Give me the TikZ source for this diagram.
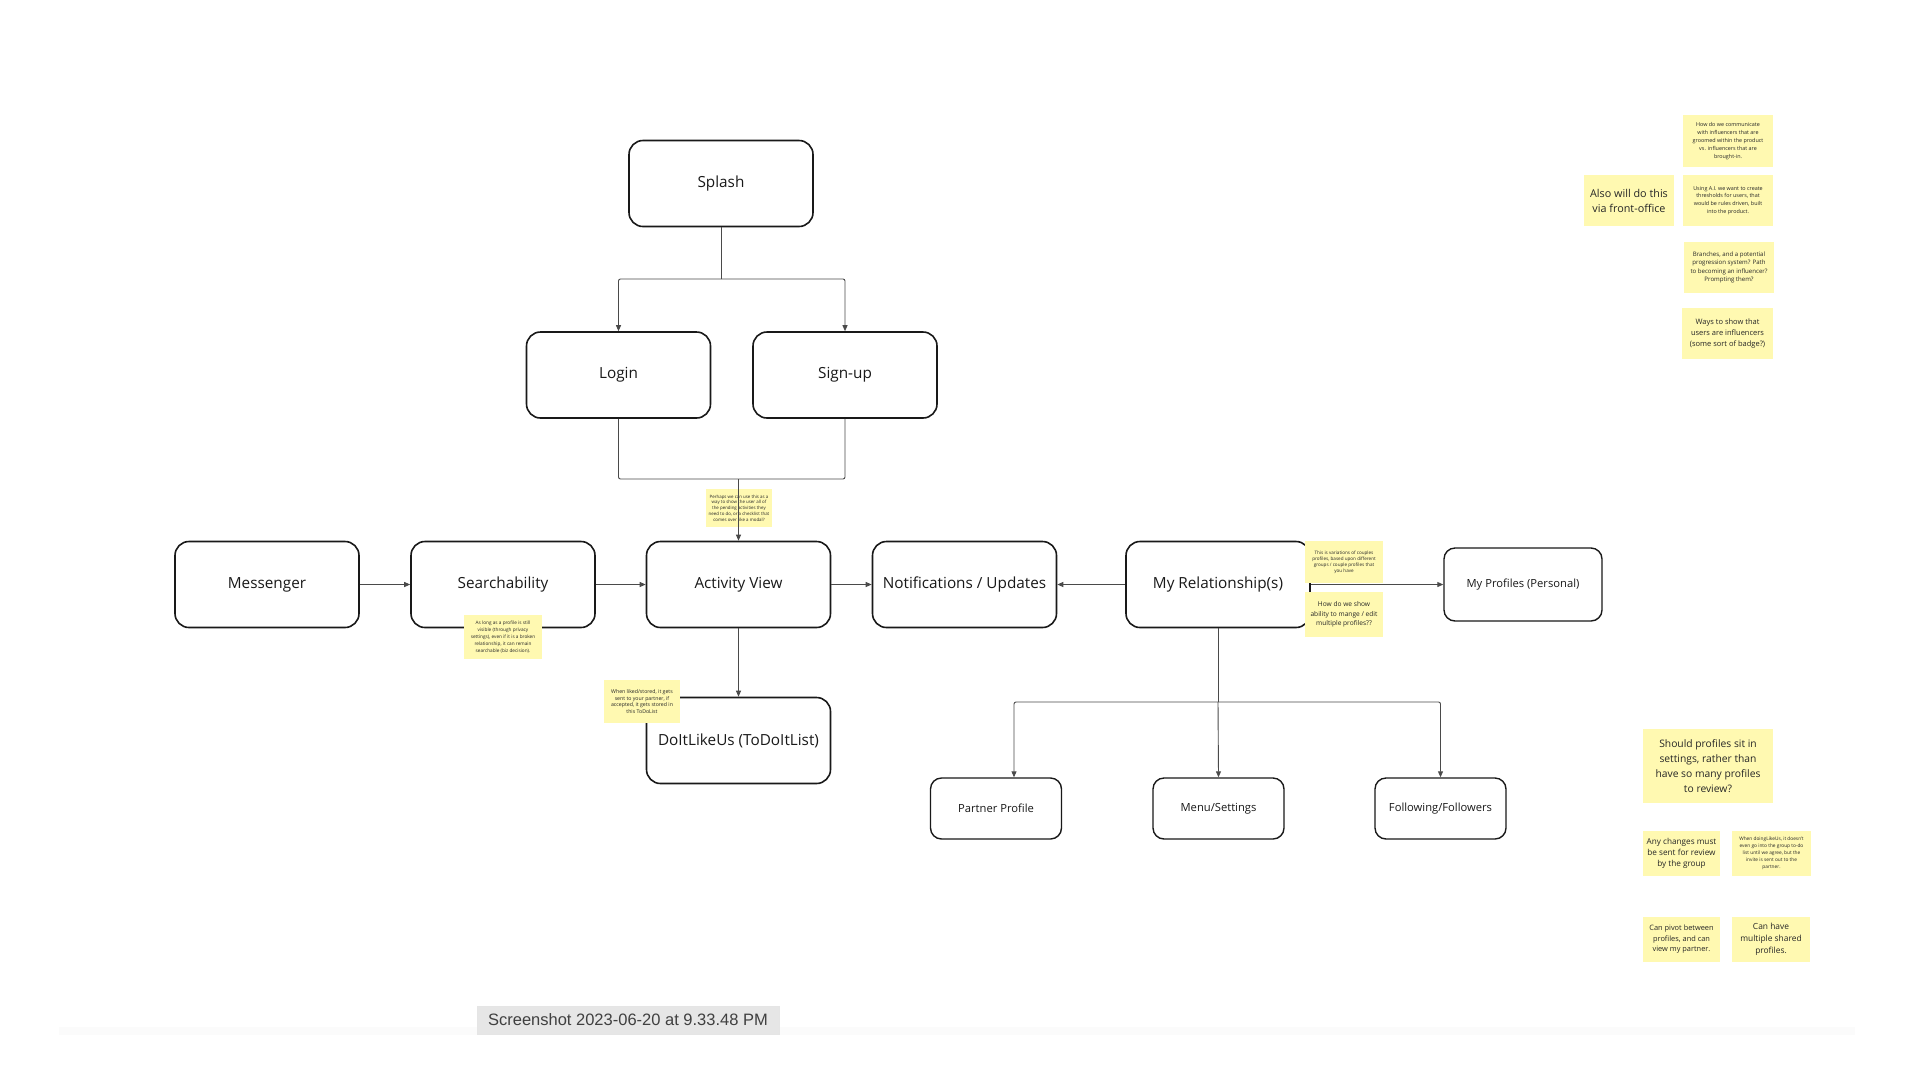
\documentclass[tikz,border=0pt]{standalone}
\usepackage{fontspec}
\setmainfont{Open Sans}
\setsansfont{Liberation Sans}
\usetikzlibrary{arrows.meta}
\definecolor{stickyyellow}{HTML}{FFF9B1}
\definecolor{inkline}{HTML}{4A4A4A}
\definecolor{labelgrey}{HTML}{E6E6E6}
\newcommand{\notefont}[2]{\fontsize{#1}{#2}\selectfont}
\begin{document}
\begin{tikzpicture}[x=1pt,y=-1pt,
    screen/.style={draw=black!90, line width=1.6pt, rounded corners=14pt, minimum width=184pt, minimum height=86pt, inner sep=2pt, font=\notefont{15.3}{18}, text=black!90},
    subscreen/.style={screen, rounded corners=11pt, line width=1.4pt, minimum width=131pt, minimum height=61pt, font=\notefont{11.2}{13}},
    sticky/.style 2 args={fill=stickyyellow, align=center, inner sep=0pt, text=black!85, minimum width=#1, minimum height=#2},
    link/.style={draw=inkline, line width=0.9pt, rounded corners=2pt},
    arr/.style={link, -{Triangle[length=6pt,width=5pt]}}]

    \path[fill=white, use as bounding box] (0,0) rectangle (1920,1080);

    \node[screen] (Splash) at (721,183.5) {Splash};
    \node[screen] (Login) at (618.5,375) {Login};
    \node[screen] (Signup) at (845,375) {Sign-up};
    \node[screen] (Messenger) at (267,584.5) {Messenger};
    \node[screen] (Search) at (503,584.5) {Searchability};
    \node[screen] (Activity) at (738.5,584.5) {Activity View};
    \node[screen] (Notify) at (964.5,584.5) {Notifications / Updates};
    \node[screen] (MyRel) at (1218,584.5) {My Relationship(s)};
    \node[screen] (DoIt) at (738.5,740.5) {DoItLikeUs (ToDoItList)};
    \node[subscreen, minimum width=158pt, minimum height=73pt] (MyProfiles) at (1523,584.5) {My Profiles (Personal)};
    \node[subscreen] (Partner) at (996,808.5) {Partner Profile};
    \node[subscreen] (Menu) at (1218.5,808.5) {Menu/Settings};
    \node[subscreen] (Following) at (1440.5,808.5) {Following/Followers};

    \node[sticky={66pt}{38pt}, font=\notefont{4.4}{5.8}] (qModal) at (739,508) {Perhaps we can use this as a\\way to show the user all of\\the pending activities they\\need to do, or a checklist that\\comes over like a modal?};
    \node[sticky={78pt}{44pt}, font=\notefont{4.7}{6.8}] (qSearch) at (503,637) {As long as a profile is still\\visible (through privacy\\settings), even if it is a broken\\relationship, it can remain\\searchable (biz decision).};
    \node[sticky={76pt}{43pt}, font=\notefont{5.2}{6.5}] (qLiked) at (642,701.5) {When liked/stored, it gets\\sent to your partner, if\\accepted, it gets stored in\\this ToDoList};
    \node[sticky={78pt}{42pt}, font=\notefont{4.6}{5.9}] (qCouples) at (1344,562) {This is variations of couples\\profiles, based upon different\\groups / couple profiles that\\you have};
    \node[sticky={78pt}{45pt}, font=\notefont{6.6}{9.3}] (qManage) at (1344,614.5) {How do we show\\ability to mange / edit\\multiple profiles??};

    \node[sticky={90pt}{52pt}, font=\notefont{5.4}{7.9}] (qComms) at (1728,141) {How do we communicate\\with influencers that are\\groomed within the product\\vs. influencers that are\\brought-in.};
    \node[sticky={90pt}{51pt}, font=\notefont{10.8}{15}] (qFront) at (1629,200.5) {Also will do this\\via front-office};
    \node[sticky={90pt}{51pt}, font=\notefont{5.4}{7.7}] (qAI) at (1728,200.5) {Using A.I. we want to create\\thresholds for users, that\\would be rules driven, built\\into the product.};
    \node[sticky={90pt}{51pt}, font=\notefont{6.1}{8.5}] (qBranch) at (1729,267.5) {Branches, and a potential\\progression system? Path\\to becoming an influencer?\\Prompting them?};
    \node[sticky={91pt}{51pt}, font=\notefont{7.5}{10.7}] (qBadge) at (1727.5,333.5) {Ways to show that\\users are influencers\\(some sort of badge?)};
    \node[sticky={130pt}{74pt}, font=\notefont{10.3}{15}] (qSettings) at (1708,766) {Should profiles sit in\\settings, rather than\\have so many profiles\\to review?};
    \node[sticky={77pt}{45pt}, font=\notefont{8.2}{11}] (qReview) at (1681.5,853.5) {Any changes must\\be sent for review\\by the group};
    \node[sticky={79pt}{45pt}, font=\notefont{4.8}{7}] (qInvite) at (1771.5,853.5) {When doingLikeUs, it doesn't\\even go into the group to-do\\list until we agree, but the\\invite is sent out to the\\partner.};
    \node[sticky={77pt}{45pt}, font=\notefont{7.4}{10.5}] (qPivot) at (1681.5,939.5) {Can pivot between\\profiles, and can\\view my partner.};
    \node[sticky={78pt}{45pt}, font=\notefont{8.4}{12}] (qShared) at (1771,939.5) {Can have\\multiple shared\\profiles.};

    \coordinate (split) at (721,279);
    \coordinate (join) at (738.5,479);
    \coordinate (fork) at (1218,702);

    \draw[link] (Splash.south) -- (split);
    \draw[arr] (split) -| (Login.north);
    \draw[arr] (split) -| (Signup.north);
    \draw[link] (Login.south) |- (join);
    \draw[link] (Signup.south) |- (join);
    \draw[arr] (join) -- (Activity.north);
    \draw[arr] (Messenger) -- (Search);
    \draw[arr] (Search) -- (Activity);
    \draw[arr] (Activity) -- (Notify);
    \draw[arr] (MyRel) -- (Notify);
    \draw[arr] (MyRel) -- (MyProfiles);
    \draw[arr] (Activity) -- (DoIt);
    \draw[link] (MyRel.south) -- (fork);
    \draw[arr] (fork) -| ([xshift=18pt]Partner.north);
    \draw[arr] (fork) -- (Menu.north);
    \draw[arr] (fork) -| (Following.north);

    \fill[black!1.5] (59,1027) rectangle (1855,1035);
    \node[fill=labelgrey, draw=black!10, minimum width=302pt, minimum height=28pt, font=\sffamily\notefont{16.5}{18}, text=black!75] (shotLabel) at (628,1020) {Screenshot 2023-06-20 at 9.33.48 PM};
\end{tikzpicture}
\end{document}
